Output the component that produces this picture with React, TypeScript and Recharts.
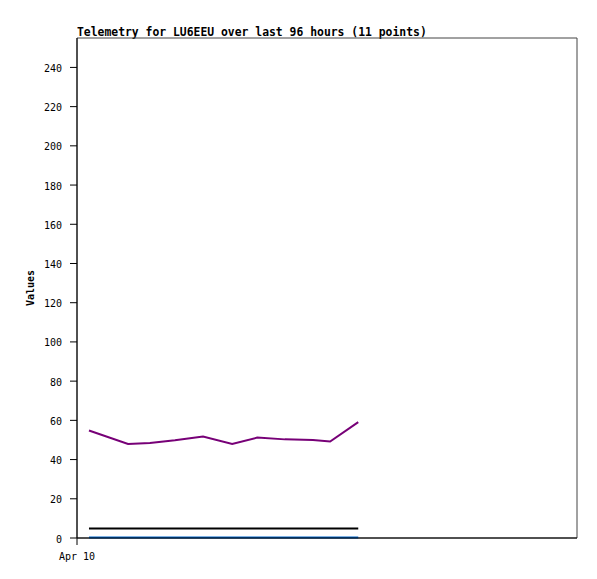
import React from "react";
import { LineChart, Line, XAxis, YAxis, ReferenceArea } from "recharts";

const hours = [2.3, 9.8, 14.0, 18.8, 24.2, 29.8, 34.6, 39.9, 45.3, 48.6, 54.0];
const purpleValues = [54.8, 48.0, 48.5, 49.8, 51.7, 48.0, 51.2, 50.3, 50.0, 49.2, 59.1];
const blackValues = [4.9, 4.9, 4.9, 4.9, 4.9, 4.9, 4.9, 4.9, 4.9, 4.9, 4.9];
const blueValues = [0.3, 0.3, 0.3, 0.3, 0.3, 0.3, 0.3, 0.3, 0.3, 0.3, 0.3];
const xTicks = [0];
const xTickLabels = ["Apr 10"];
const yTicks = [0, 20, 40, 60, 80, 100, 120, 140, 160, 180, 200, 220, 240];

const data = hours.map((h, i) => ({
  t: h,
  a: purpleValues[i],
  b: blackValues[i],
  c: blueValues[i],
}));

const FONT = "'DejaVu Sans Mono', 'Liberation Mono', monospace";

export default function App() {
  return (
    <div style={{ position: "relative", width: 589, height: 571 }}>
      <div
        style={{
          position: "absolute",
          left: 69,
          top: 18,
          fontFamily: FONT,
          fontWeight: "bold",
          fontSize: 11.4,
          lineHeight: "12px",
          color: "#000",
          whiteSpace: "nowrap",
        }}
      >
        Telemetry for LU6EEU over last 96 hours (11 points)
      </div>
      <LineChart
        width={589}
        height={571}
        data={data}
        margin={{ top: 30, right: 20, left: 0, bottom: 11 }}
      >
        <ReferenceArea
          x1={0}
          x2={96}
          y1={0}
          y2={255}
          fill="none"
          stroke="#444"
          strokeWidth={1}
          ifOverflow="visible"
        />
        <XAxis
          dataKey="t"
          type="number"
          domain={[0, 96]}
          ticks={xTicks}
          tickFormatter={(v: number) => xTickLabels[xTicks.indexOf(v)] ?? ""}
          height={30}
          tickSize={7}
          tickMargin={8}
          axisLine={{ stroke: "#000" }}
          tickLine={{ stroke: "#000" }}
          tick={{ fontFamily: FONT, fontSize: 10, fill: "#000" }}
        />
        <YAxis
          type="number"
          domain={[0, 255]}
          ticks={yTicks}
          width={69}
          tickSize={7}
          tickMargin={8}
          axisLine={{ stroke: "#000" }}
          tickLine={{ stroke: "#000" }}
          tick={{ fontFamily: FONT, fontSize: 10, fill: "#000", dy: 1 }}
          label={{
            content: () => (
              <text
                x={26}
                y={280}
                transform="rotate(-90 26 280)"
                textAnchor="middle"
                fontFamily={FONT}
                fontWeight="bold"
                fontSize={10}
                fill="#000"
              >
                Values
              </text>
            ),
          }}
        />
        <Line
          type="linear"
          dataKey="a"
          stroke="#770077"
          strokeWidth={2}
          dot={false}
          isAnimationActive={false}
        />
        <Line
          type="linear"
          dataKey="b"
          stroke="#000000"
          strokeWidth={2}
          dot={false}
          isAnimationActive={false}
        />
        <Line
          type="linear"
          dataKey="c"
          stroke="#0066cc"
          strokeWidth={2}
          dot={false}
          isAnimationActive={false}
        />
      </LineChart>
    </div>
  );
}
